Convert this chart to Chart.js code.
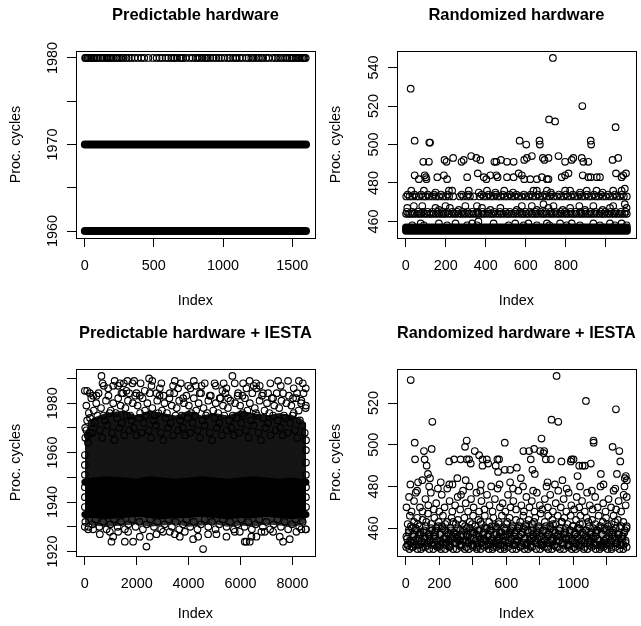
<!DOCTYPE html>
<html>
<head>
<meta charset="utf-8">
<script src="https://cdn.jsdelivr.net/npm/chart.js@4.4.1/dist/chart.umd.min.js"></script>
<style>
  body { margin: 0; background: #fff; }
  #wrap { position: relative; width: 641px; height: 626px; }
  #wrap canvas { position: absolute; }
</style>
</head>
<body>
<div id="wrap">
  <canvas id="c1" width="320" height="313" style="left:0;top:0"></canvas>
  <canvas id="c2" width="321" height="313" style="left:320px;top:0"></canvas>
  <canvas id="c3" width="320" height="313" style="left:0;top:313px"></canvas>
  <canvas id="c4" width="321" height="313" style="left:320px;top:313px"></canvas>
</div>
<script>
// ---- panel 1: Predictable hardware (1600 runs, only 1960 / 1970 / 1980) ----
const p1Count = 1600;
const p1YRange = [1960, 1980];
const p1XTicks = [0, 500, 1000, 1500];
const p1XLabels = ['0', '500', '1000', '1500'];
const p1YTicks = [1960, 1965, 1970, 1975, 1980];
const p1YLabels = ['1960', '', '1970', '', '1980'];
// rows that are saturated (a point at almost every index)
const p1SolidLevels = [1960, 1970];
// indices of the runs that took 1980 cycles
const p1Idx1980 = [3, 8, 17, 22, 31, 40, 48, 60, 66, 72, 84, 96, 112, 128, 140, 157, 166, 176, 185, 193, 210,
  229, 240, 250, 265, 280, 301, 320, 337, 360, 385, 410, 430, 460, 494, 520, 542, 560, 585, 605, 626, 640,
  650, 667, 690, 700, 710, 730, 758, 780, 802, 815, 831, 850, 870, 879, 890, 908, 930, 951, 970, 987, 1011,
  1035, 1050, 1072, 1090, 1100, 1120, 1140, 1168, 1185, 1204, 1220, 1240, 1258, 1276, 1290, 1312, 1330,
  1360, 1380, 1397, 1415, 1433, 1450, 1465, 1481, 1495, 1505, 1524, 1530, 1543, 1552, 1563, 1575, 1582,
  1590, 1598];

// ---- panel 2: Randomized hardware (1105 runs) ----
const p2Count = 1105;
const p2YRange = [455, 545];
const p2XTicks = [0, 200, 400, 600, 800, 1000];
const p2XLabels = ['0', '200', '400', '600', '800', ''];
const p2YTicks = [460, 480, 500, 520, 540];
const p2YLabels = ['460', '480', '500', '520', '540'];
const p2SolidLevels = [455, 456, 457];
const p2Row464 = [2, 13, 22, 35, 44, 58, 69, 79, 93, 104, 118, 127, 140, 153, 165, 178, 189, 199, 214, 227,
  240, 250, 263, 277, 289, 301, 315, 326, 339, 351, 363, 378, 389, 402, 416, 427, 437, 451, 466, 477, 490,
  504, 514, 527, 540, 551, 566, 579, 590, 603, 614, 629, 641, 652, 665, 680, 690, 702, 717, 728, 740, 754,
  766, 778, 791, 803, 816, 829, 841, 852, 867, 878, 891, 905, 916, 929, 942, 954, 968, 981, 992, 1006,
  1017, 1031, 1043, 1055, 1069, 1080, 1093, 1104];
const p2Row465 = [6, 30, 63, 86, 109, 134, 160, 184, 206, 233, 257, 284, 308, 332, 359, 383, 409, 442, 471,
  498, 520, 548, 571, 598, 621, 648, 673, 697, 723, 747, 773, 796, 823, 847, 873, 896, 923, 947, 974, 997,
  1024, 1048, 1075, 1099];
const p2Row473 = [3, 19, 34, 53, 67, 86, 99, 117, 134, 151, 167, 186, 201, 217, 237, 271, 287, 306, 321, 341,
  369, 389, 404, 424, 439, 459, 474, 493, 509, 529, 544, 563, 579, 599, 614, 634, 649, 669, 684, 704, 719,
  739, 755, 775, 789, 809, 825, 844, 859, 879, 894, 914, 929, 949, 964, 984, 999, 1019, 1034, 1054, 1069,
  1089, 1104];
const p2Row474 = [10, 44, 77, 110, 142, 176, 210, 280, 313, 380, 414, 450, 485, 520, 553, 590, 624, 660, 694,
  728, 765, 800, 835, 870, 905, 940, 975, 1010, 1045, 1080];
const p2Points = [
  [33, 458], [75, 459], [91, 458], [166, 459], [207, 458], [249, 459], [307, 458], [332, 459], [356, 458],
  [363, 460], [439, 459], [514, 458], [547, 459], [589, 458], [613, 459], [655, 458], [705, 459], [718, 458],
  [771, 459], [804, 458], [829, 459], [870, 458], [937, 459], [970, 458], [1020, 459], [1045, 458],
  [1078, 459], [1103, 458],
  [8, 467], [41, 468], [83, 468], [149, 467], [166, 466], [199, 468], [221, 467], [265, 466], [298, 468],
  [356, 468], [381, 467], [423, 466], [473, 467], [555, 466], [580, 468], [630, 468], [655, 466], [688, 469],
  [713, 467], [738, 468], [784, 466], [821, 467], [867, 468], [895, 466], [937, 468], [983, 466], [1020, 467],
  [1036, 468], [1094, 469], [1103, 467],
  [28, 476], [91, 476], [149, 475], [216, 476], [232, 476], [315, 476], [365, 475], [406, 476], [448, 475],
  [492, 476], [536, 475], [638, 476], [655, 476], [705, 476], [725, 475], [796, 476], [821, 476], [870, 475],
  [904, 476], [953, 476], [983, 475], [1036, 476], [1078, 476], [1094, 477],
  [45, 484], [66, 482], [95, 484], [101, 483], [104, 482], [158, 483], [191, 484], [207, 482], [307, 483],
  [360, 485], [390, 483], [403, 482], [423, 484], [453, 484], [459, 483], [506, 483], [539, 483], [564, 485],
  [580, 484], [592, 482], [622, 482], [655, 482], [680, 483], [705, 482], [713, 482], [779, 483], [796, 484],
  [813, 485], [884, 484], [912, 483], [924, 483], [954, 483], [970, 483], [1050, 485], [1078, 483],
  [1086, 484], [1100, 485],
  [88, 491], [116, 491], [194, 492], [204, 491], [237, 493], [279, 491], [290, 492], [327, 494], [353, 493],
  [373, 492], [443, 491], [453, 491], [476, 492], [506, 491], [539, 491], [592, 492], [605, 493], [630, 494],
  [685, 493], [693, 492], [713, 493], [763, 494], [796, 491], [829, 492], [837, 493], [879, 493], [887, 491],
  [912, 491], [1033, 492], [1061, 493],
  [25, 529], [45, 502], [118, 501], [122, 501], [569, 502], [602, 500], [668, 502], [670, 500], [716, 513],
  [735, 545], [746, 512], [882, 520], [924, 502], [926, 500], [1048, 509]
];

// ---- panel 3: Predictable hardware + IESTA (8524 runs) ----
const p3Count = 8524;
const p3YRange = [1921, 1991];
const p3XTicks = [0, 2000, 4000, 6000, 8000];
const p3XLabels = ['0', '2000', '4000', '6000', '8000'];
const p3YTicks = [1920, 1930, 1940, 1950, 1960, 1970, 1980, 1990];
const p3YLabels = ['1920', '', '1940', '', '1960', '', '1980', ''];
// outline of the saturated cloud, sampled along the index axis
const p3BandX = [1, 300, 800, 1500, 2000, 2500, 3000, 3500, 4000, 4500, 5000, 5500, 6000, 6500, 7000, 7500, 8000, 8300, 8524];
const p3CoreLow = [1935, 1935, 1934.5, 1935, 1935.5, 1935, 1934.5, 1935, 1935, 1935.5, 1935, 1934.5, 1935, 1935, 1935.5, 1935, 1934.5, 1935, 1935];
const p3CoreTop = [1948, 1948.5, 1949, 1948.5, 1948, 1949, 1948.5, 1948, 1948.5, 1949, 1948.5, 1948, 1948.5, 1949, 1948.5, 1948, 1948.5, 1948, 1948];
const p3CloudTop = [1968, 1974, 1976, 1977, 1975, 1977, 1976, 1975, 1977, 1975, 1976, 1975, 1977, 1976, 1975, 1976, 1975, 1974, 1972];
const p3CloudLow = [1931.5, 1930.5, 1930, 1930.5, 1931, 1930, 1930.5, 1931, 1930, 1930.5, 1931, 1930, 1930.5, 1930, 1931, 1930.5, 1930, 1930.5, 1931.5];
// individual runs in the upper part of the cloud (1964-1984)
const p3Cloud = [
  [15, 1970], [110, 1967], [200, 1974], [300, 1968], [392, 1972], [485, 1975], [580, 1969], [672, 1966],
  [770, 1973], [860, 1971], [955, 1976], [1050, 1968], [1145, 1965], [1240, 1974], [1330, 1970], [1425, 1972],
  [1520, 1967], [1615, 1975], [1710, 1969], [1800, 1973], [1895, 1970], [1990, 1967], [2085, 1974], [2180, 1968],
  [2270, 1972], [2365, 1975], [2460, 1969], [2555, 1966], [2650, 1973], [2740, 1971], [2835, 1976], [2930, 1968],
  [3025, 1965], [3120, 1974], [3210, 1970], [3305, 1972], [3400, 1967], [3495, 1975], [3590, 1969], [3680, 1973],
  [3775, 1970], [3870, 1967], [3965, 1974], [4060, 1968], [4150, 1972], [4245, 1975], [4340, 1969], [4435, 1966],
  [4530, 1973], [4620, 1971], [4715, 1976], [4810, 1968], [4905, 1965], [5000, 1974], [5090, 1970], [5185, 1972],
  [5280, 1967], [5375, 1975], [5470, 1969], [5560, 1973], [5655, 1970], [5750, 1967], [5845, 1974], [5940, 1968],
  [6030, 1972], [6125, 1975], [6220, 1969], [6315, 1966], [6410, 1973], [6500, 1971], [6595, 1976], [6690, 1968],
  [6785, 1965], [6880, 1974], [6970, 1970], [7065, 1972], [7160, 1967], [7255, 1975], [7350, 1969], [7440, 1973],
  [7535, 1970], [7630, 1967], [7725, 1974], [7820, 1968], [7910, 1972], [8005, 1975], [8100, 1969], [8195, 1966],
  [8290, 1973], [8380, 1971], [8475, 1968],
  [60, 1979], [155, 1976], [250, 1982], [345, 1977], [440, 1980], [530, 1984], [625, 1978], [720, 1975],
  [815, 1981], [910, 1983], [1000, 1977], [1095, 1980], [1190, 1976], [1285, 1982], [1380, 1979], [1470, 1984],
  [1565, 1978], [1660, 1981], [1755, 1975], [1850, 1980], [1940, 1983], [2035, 1979], [2130, 1976], [2225, 1982],
  [2320, 1977], [2410, 1980], [2505, 1984], [2600, 1978], [2695, 1975], [2790, 1981], [2880, 1983], [2975, 1977],
  [3070, 1980], [3165, 1976], [3260, 1982], [3350, 1979], [3445, 1984], [3540, 1978], [3635, 1981], [3730, 1975],
  [3820, 1980], [3915, 1983], [4010, 1979], [4105, 1976], [4200, 1982], [4290, 1977], [4385, 1980], [4480, 1984],
  [4575, 1978], [4670, 1975], [4760, 1981], [4855, 1983], [4950, 1977], [5045, 1980], [5140, 1976], [5230, 1982],
  [5325, 1979], [5420, 1984], [5515, 1978], [5610, 1981], [5700, 1975], [5795, 1980], [5890, 1983], [5985, 1979],
  [6080, 1976], [6170, 1982], [6265, 1977], [6360, 1980], [6455, 1984], [6550, 1978], [6640, 1975], [6735, 1981],
  [6830, 1983], [6925, 1977], [7020, 1980], [7110, 1976], [7205, 1982], [7300, 1979], [7395, 1984], [7490, 1978],
  [7580, 1981], [7675, 1975], [7770, 1980], [7865, 1983], [7960, 1979], [8050, 1976], [8145, 1982], [8240, 1977],
  [8335, 1980], [8430, 1984], [8510, 1978]
];
const p3Points = [
  [1, 1985], [90, 1985], [193, 1984], [321, 1983], [449, 1983], [642, 1991], [681, 1988], [732, 1987],
  [899, 1986], [1091, 1987], [1150, 1989], [1284, 1987], [1350, 1988], [1412, 1984], [1502, 1988],
  [1605, 1985], [1640, 1989], [1708, 1984], [1836, 1988], [1900, 1989], [1990, 1984], [2119, 1983],
  [2150, 1988], [2311, 1985], [2478, 1990], [2568, 1987], [2600, 1989], [2761, 1984], [2889, 1986],
  [2950, 1988], [3043, 1983], [3274, 1984], [3400, 1987], [3467, 1989], [3595, 1986], [3700, 1988],
  [3788, 1982], [3980, 1987], [4070, 1986], [4200, 1989], [4276, 1987], [4430, 1984], [4500, 1987],
  [4622, 1988], [4815, 1983], [5000, 1988], [5046, 1987], [5200, 1982], [5303, 1985], [5350, 1988],
  [5457, 1986], [5521, 1982], [5688, 1991], [5778, 1988], [5906, 1984], [6073, 1983], [6100, 1988],
  [6227, 1986], [6350, 1989], [6510, 1987], [6600, 1988], [6613, 1986], [6741, 1987], [6869, 1984],
  [7062, 1984], [7150, 1988], [7255, 1982], [7447, 1989], [7550, 1987], [7640, 1984], [7832, 1989],
  [8025, 1982], [8050, 1986], [8179, 1984], [8250, 1989], [8346, 1981], [8400, 1988], [8513, 1986],
  [8520, 1979],
  [20, 1966], [60, 1969], [120, 1964], [200, 1968], [260, 1972], [90, 1973],
  [1, 1938], [2, 1942], [1, 1946], [3, 1951], [1, 1955], [4, 1959],
  [8524, 1938], [8522, 1942], [8524, 1946], [8521, 1951], [8523, 1956], [8520, 1961], [8524, 1965],
  [20, 1932], [148, 1930], [293, 1931], [418, 1933], [563, 1930], [702, 1932], [838, 1929], [983, 1931],
  [1117, 1933], [1262, 1930], [1398, 1932], [1543, 1929], [1677, 1931], [1822, 1933], [1958, 1930],
  [2103, 1932], [2237, 1929], [2382, 1931], [2518, 1933], [2663, 1930], [2797, 1932], [2942, 1929],
  [3078, 1931], [3223, 1933], [3357, 1930], [3502, 1932], [3638, 1929], [3783, 1931], [3917, 1933],
  [4062, 1930], [4198, 1932], [4343, 1929], [4477, 1931], [4622, 1933], [4758, 1930], [4903, 1932],
  [5037, 1929], [5182, 1931], [5318, 1933], [5463, 1930], [5597, 1932], [5742, 1929], [5878, 1931],
  [6023, 1933], [6157, 1930], [6302, 1932], [6438, 1929], [6583, 1931], [6717, 1933], [6862, 1930],
  [6998, 1932], [7143, 1929], [7277, 1931], [7422, 1933], [7558, 1930], [7703, 1932], [7837, 1929],
  [7982, 1931], [8118, 1933], [8263, 1930], [8398, 1932], [8521, 1929],
  [1, 1930], [128, 1929], [321, 1929], [578, 1927], [963, 1928], [1027, 1924], [1091, 1926], [1284, 1928],
  [1541, 1924], [1669, 1928], [1862, 1924], [2119, 1926], [2375, 1922], [2504, 1926], [2761, 1927],
  [3017, 1928], [3274, 1928], [3467, 1927], [3659, 1926], [3852, 1928], [4173, 1925], [4366, 1926],
  [4558, 1921], [4751, 1927], [5072, 1927], [5457, 1926], [5778, 1928], [5971, 1928], [6163, 1924],
  [6227, 1924], [6356, 1924], [6420, 1926], [6613, 1926], [6806, 1928], [6934, 1928], [7255, 1928],
  [7511, 1926], [7640, 1924], [7897, 1925], [8153, 1928], [8346, 1929], [8513, 1929]
];

// ---- panel 4: Randomized hardware + IESTA (1320 runs) ----
const p4Count = 1320;
const p4YRange = [450, 533];
const p4XTicks = [0, 200, 400, 600, 800, 1000, 1200];
const p4XLabels = ['0', '200', '', '600', '', '1000', ''];
const p4YTicks = [460, 480, 500, 520];
const p4YLabels = ['460', '480', '500', '520'];
// outline of the saturated bottom of the cloud
const p4BandX = [1, 150, 300, 450, 600, 750, 900, 1050, 1200, 1320];
const p4BandLow = [451, 451, 451, 451, 451, 451, 451, 451, 451, 451];
const p4BandTop = [459, 461, 460, 461, 462, 463, 461, 460, 461, 459];
const p4High = [
  [30, 531], [900, 533], [1075, 521], [1254, 517], [159, 511], [870, 512], [910, 511], [54, 501], [591, 501],
  [810, 503], [1120, 502], [1121, 501], [56, 493], [155, 498], [364, 502], [354, 499], [109, 497], [113, 493],
  [125, 490], [133, 486], [145, 484], [259, 492], [289, 493], [328, 493], [364, 493], [378, 493], [388, 491],
  [412, 497], [438, 495], [458, 493], [458, 490], [484, 493], [492, 491], [537, 490], [551, 487], [547, 493],
  [557, 493], [623, 488], [663, 489], [702, 497], [736, 497], [746, 493], [756, 488], [770, 486], [766, 498],
  [802, 497], [822, 496], [826, 497], [836, 493], [866, 493], [929, 492], [985, 492], [1001, 493], [1035, 490],
  [1055, 490], [989, 493], [1104, 491], [1069, 490], [1234, 499], [1274, 497], [1280, 492], [1260, 486],
  [1307, 484], [1319, 483], [1313, 485], [1164, 486], [1025, 485], [935, 483], [846, 482], [687, 484],
  [591, 488], [623, 482], [448, 481], [358, 483], [308, 484], [279, 481], [209, 482], [99, 483], [74, 482]
];
const p4Mid = [
  [5, 470], [20, 475], [35, 468], [50, 473], [68, 478], [85, 470], [100, 468], [118, 474], [135, 471], [150, 477],
  [168, 469], [182, 472], [200, 468], [215, 476], [232, 470], [248, 479], [262, 473], [278, 468], [295, 471],
  [310, 475], [325, 469], [342, 478], [358, 472], [372, 468], [390, 474], [405, 470], [422, 477], [438, 468],
  [452, 473], [470, 469], [485, 476], [500, 471], [518, 468], [532, 474], [548, 479], [562, 470], [578, 472],
  [595, 468], [610, 476], [625, 470], [642, 473], [658, 469], [672, 478], [690, 471], [705, 468], [720, 475],
  [738, 470], [752, 473], [768, 468], [782, 477], [800, 471], [815, 469], [830, 474], [848, 470], [862, 476],
  [878, 468], [895, 472], [910, 478], [925, 470], [942, 474], [958, 468], [972, 477], [988, 471], [1005, 469],
  [1020, 475], [1035, 470], [1052, 473], [1068, 468], [1082, 477], [1098, 471], [1115, 469], [1130, 475],
  [1145, 470], [1162, 480], [1178, 472], [1192, 468], [1210, 474], [1225, 470], [1240, 478], [1255, 469],
  [1270, 473], [1285, 468], [1300, 476], [1312, 471], [1318, 475],
  [28, 481], [60, 477], [140, 480], [192, 479], [260, 481], [330, 476], [380, 480], [445, 478], [510, 480],
  [560, 481], [640, 479], [700, 480], [760, 478], [840, 480], [890, 481], [960, 479], [1040, 480], [1110, 478],
  [1180, 481], [1250, 479], [1305, 480]
];
const p4Low = [
  [3, 451], [22, 450], [45, 451], [70, 450], [92, 450], [118, 451], [140, 450], [165, 450], [188, 451], [210, 450],
  [236, 450], [258, 451], [283, 450], [305, 450], [330, 451], [352, 450], [377, 450], [400, 451], [424, 450],
  [447, 450], [470, 451], [495, 450], [518, 450], [542, 451], [565, 450], [590, 450], [612, 451], [636, 450],
  [660, 450], [684, 451], [707, 450], [730, 450], [755, 451], [778, 450], [802, 450], [826, 451], [850, 450],
  [873, 450], [897, 451], [920, 450], [944, 450], [968, 451], [990, 450], [1015, 450], [1038, 451], [1062, 450],
  [1085, 450], [1110, 451], [1133, 450], [1157, 450], [1180, 451], [1204, 450], [1228, 450], [1252, 451],
  [1275, 450], [1298, 450], [1318, 451],
  [8, 455], [12, 462], [18, 458], [25, 466], [31, 453], [37, 460], [44, 456], [50, 463], [57, 452], [63, 459],
  [69, 465], [76, 454], [82, 461], [88, 457], [95, 453], [101, 464], [107, 458], [114, 455], [120, 461], [127, 452],
  [133, 467], [139, 457], [146, 454], [152, 462], [158, 459], [165, 453], [171, 465], [178, 456], [184, 460],
  [190, 452], [197, 463], [203, 457], [210, 454], [216, 461], [222, 466], [229, 455], [235, 459], [242, 453],
  [248, 463], [254, 457], [261, 452], [267, 460], [274, 465], [280, 455], [286, 458], [293, 453], [299, 462],
  [306, 456], [312, 464], [318, 454], [325, 459],
  [331, 452], [338, 462], [344, 457], [350, 465], [357, 454], [363, 460], [370, 456], [376, 453], [382, 463],
  [389, 458], [395, 452], [402, 466], [408, 455], [414, 461], [421, 457], [427, 453], [434, 464], [440, 459],
  [446, 455], [453, 462], [459, 452], [466, 458], [472, 466], [478, 454], [485, 460], [491, 456], [498, 463],
  [504, 453], [510, 459], [517, 455], [523, 465], [530, 452], [536, 461], [542, 457], [549, 454], [555, 463],
  [562, 458], [568, 452], [574, 466], [581, 456], [587, 460], [594, 454], [600, 462], [606, 457], [613, 453],
  [619, 465], [626, 459], [632, 455], [638, 461], [645, 452], [651, 458], [658, 464],
  [664, 454], [670, 460], [677, 456], [683, 463], [690, 452], [696, 458], [702, 466], [709, 455], [715, 461],
  [722, 453], [728, 459], [734, 464], [741, 456], [747, 452], [754, 462], [760, 457], [766, 454], [773, 465],
  [779, 459], [786, 453], [792, 461], [798, 456], [805, 467], [811, 452], [818, 459], [824, 455], [830, 463],
  [837, 458], [843, 453], [850, 466], [856, 457], [862, 461], [869, 454], [875, 464], [882, 459], [888, 452],
  [894, 462], [901, 456], [907, 466], [914, 454], [920, 460], [926, 457], [933, 463], [939, 453], [946, 465],
  [952, 458], [958, 455], [965, 462], [971, 452], [978, 459], [984, 466],
  [991, 455], [997, 461], [1003, 453], [1010, 458], [1016, 464], [1023, 456], [1029, 452], [1035, 460],
  [1042, 466], [1048, 454], [1055, 462], [1061, 457], [1067, 453], [1074, 459], [1080, 465], [1087, 455],
  [1093, 461], [1099, 452], [1106, 458], [1112, 464], [1119, 456], [1125, 453], [1131, 462], [1138, 459],
  [1144, 455], [1151, 466], [1157, 452], [1163, 460], [1170, 457], [1176, 463], [1183, 454], [1189, 459],
  [1195, 465], [1202, 453], [1208, 461], [1215, 456], [1221, 452], [1227, 462], [1234, 458], [1240, 466],
  [1247, 455], [1253, 460], [1259, 453], [1266, 464], [1272, 457], [1279, 452], [1285, 461], [1291, 455],
  [1298, 463], [1304, 458], [1311, 453], [1317, 460],
  [15, 452], [48, 454], [79, 457], [110, 453], [142, 456], [175, 458], [205, 452], [238, 455], [270, 457],
  [302, 453], [334, 456], [366, 454], [398, 458], [430, 452], [462, 455], [494, 457], [526, 453], [558, 456],
  [590, 452], [622, 458], [654, 454], [686, 457], [718, 452], [750, 455], [782, 458], [814, 453], [846, 456],
  [878, 454], [910, 457], [942, 452], [974, 455], [1006, 457], [1038, 453], [1070, 456], [1102, 454],
  [1134, 458], [1166, 452], [1198, 455], [1230, 457], [1262, 453], [1294, 456]
];
const p4Floor = [
  [4, 456], [10, 452], [18, 459], [26, 454], [31, 461], [39, 451], [47, 457], [52, 453], [60, 460], [68, 455],
  [73, 462], [81, 452], [89, 458], [94, 454], [102, 451], [110, 459], [115, 456], [123, 463], [131, 453],
  [136, 457], [144, 455], [152, 460], [157, 452], [165, 456], [173, 452], [178, 459], [186, 454], [194, 461],
  [199, 451], [207, 457], [215, 453], [220, 460], [228, 455], [236, 462], [241, 452], [249, 458], [257, 454],
  [262, 451], [270, 459], [278, 456], [283, 463], [291, 453], [299, 457], [304, 455], [312, 460], [320, 452],
  [325, 456], [333, 452], [341, 459], [346, 454], [354, 461], [362, 451], [367, 457], [375, 453], [383, 460],
  [388, 455], [396, 462], [404, 452], [409, 458], [417, 454], [425, 451], [430, 459], [438, 456], [446, 463],
  [451, 453], [459, 457], [467, 455], [472, 460], [480, 452], [488, 456], [493, 452], [501, 459], [509, 454],
  [514, 461], [522, 451], [530, 457], [535, 453], [543, 460], [551, 455], [556, 462], [564, 452], [572, 458],
  [577, 454], [585, 451], [593, 459], [598, 456], [606, 463], [614, 453], [619, 457], [627, 455], [635, 460],
  [640, 452], [648, 456], [656, 452], [661, 459], [669, 454], [677, 461], [682, 451], [690, 457], [698, 453],
  [703, 460], [711, 455], [719, 462], [724, 452], [732, 458], [740, 454], [745, 451], [753, 459], [761, 456],
  [766, 463], [774, 453], [782, 457], [787, 455], [795, 460], [803, 452], [808, 456], [816, 452], [824, 459],
  [829, 454], [837, 461], [845, 451], [850, 457], [858, 453], [866, 460], [871, 455], [879, 462], [887, 452],
  [892, 458], [900, 454], [908, 451], [913, 459], [921, 456], [929, 463], [934, 453], [942, 457], [950, 455],
  [955, 460], [963, 452], [971, 456], [976, 452], [984, 459], [992, 454], [997, 461], [1005, 451], [1013, 457],
  [1018, 453], [1026, 460], [1034, 455], [1039, 462], [1047, 452], [1055, 458], [1060, 454], [1068, 451],
  [1076, 459], [1081, 456], [1089, 463], [1097, 453], [1102, 457], [1110, 455], [1118, 460], [1123, 452],
  [1131, 456], [1139, 452], [1144, 459], [1152, 454], [1160, 461], [1165, 451], [1173, 457], [1181, 453],
  [1186, 460], [1194, 455], [1202, 462], [1207, 452], [1215, 458], [1223, 454], [1228, 451], [1236, 459],
  [1244, 456], [1249, 463], [1257, 453], [1265, 457], [1270, 455], [1278, 460], [1286, 452], [1291, 456],
  [1299, 452], [1307, 459], [1312, 454], [1318, 461]
];

// ---- helpers ----
const FONT = '"Liberation Sans", Arial, Helvetica, sans-serif';
Chart.defaults.font.family = FONT;

// R pads each axis by 4% of the data range
const rRange = (lo, hi) => [lo - 0.04 * (hi - lo), hi + 0.04 * (hi - lo)];
const pairs = list => list.map(p => ({ x: p[0], y: p[1] }));
const row = (idx, level) => idx.map(x => ({ x: x, y: level }));
const edge = (xs, ys) => xs.map((x, i) => ({ x: x, y: ys[i] }));

function dots(data) {
  return { type: 'scatter', data: data, order: 1 };
}
function solidRow(count, level, width) {
  return {
    type: 'line', data: [{ x: 1, y: level }, { x: count, y: level }], showLine: true,
    borderColor: '#000', borderWidth: width, borderCapStyle: 'round', pointRadius: 0, fill: false, order: 2
  };
}
function outline(data, width, fillTo, color, order) {
  return {
    type: 'line', data: data, showLine: true, pointRadius: 0,
    borderColor: width ? '#000' : 'rgba(0,0,0,0)', borderWidth: width || 1, borderCapStyle: 'round',
    fill: fillTo === null ? false : fillTo, backgroundColor: color, order: order
  };
}

const boxPlugin = {
  id: 'plotBox',
  afterDraw(chart) {
    const a = chart.chartArea;
    const ctx = chart.ctx;
    ctx.save();
    ctx.strokeStyle = '#000';
    ctx.lineWidth = 1;
    ctx.strokeRect(Math.round(a.left) + 0.5, Math.round(a.top) + 0.5,
      Math.round(a.right) - Math.round(a.left), Math.round(a.bottom) - Math.round(a.top));
    ctx.restore();
  }
};

function tickPad(labels) {
  const c = document.createElement('canvas').getContext('2d');
  c.font = '14.4px ' + FONT;
  const w = Math.max.apply(null, labels.map(s => c.measureText(s).width));
  return 13.5 - w / 2;
}

function drawPanel(id, p) {
  const canvas = document.getElementById(id);
  const W = canvas.width, H = canvas.height;
  const xr = rRange(1, p.count);
  const yr = rRange(p.yRange[0], p.yRange[1]);
  const lab = (vals, labs) => v => { const i = vals.indexOf(v); return i < 0 ? '' : labs[i]; };
  const tickFont = { family: FONT, size: 14.4 };
  return new Chart(canvas, {
    type: 'scatter',
    data: { datasets: p.datasets },
    options: {
      responsive: false,
      animation: false,
      events: [],
      layout: { padding: { left: 0, top: 0, right: W - p.area.right, bottom: 0 } },
      elements: {
        point: { radius: 3.3, borderWidth: 1.15, backgroundColor: 'rgba(0,0,0,0)', borderColor: '#000' },
        line: { tension: 0 }
      },
      plugins: {
        legend: { display: false },
        tooltip: { enabled: false },
        title: {
          display: true, text: p.title, color: '#000', fullSize: false,
          font: { family: FONT, size: 16.5, weight: 'bold', lineHeight: 1.2 },
          padding: { top: p.titleY - 9.9, bottom: p.area.top - p.titleY - 9.9 }
        }
      },
      scales: {
        x: {
          type: 'linear', min: xr[0], max: xr[1],
          afterBuildTicks: s => { s.ticks = p.xTicks.map(v => ({ value: v })); },
          afterFit: s => { s.height = H - p.area.bottom; s.paddingLeft = 0; s.paddingRight = 0; },
          border: { display: false },
          grid: { drawOnChartArea: false, drawTicks: true, tickLength: 9, color: '#000', tickColor: '#000', lineWidth: 1 },
          ticks: {
            autoSkip: false, minRotation: 0, maxRotation: 0, padding: 10.5, color: '#000', font: tickFont,
            callback: lab(p.xTicks, p.xLabels)
          },
          title: { display: true, text: 'Index', color: '#000', font: tickFont, padding: { top: 0, bottom: 3.5 } }
        },
        y: {
          type: 'linear', min: yr[0], max: yr[1],
          afterBuildTicks: s => { s.ticks = p.yTicks.map(v => ({ value: v })); },
          afterFit: s => { s.width = p.area.left; s.paddingTop = 0; s.paddingBottom = 0; },
          border: { display: false },
          grid: { drawOnChartArea: false, drawTicks: true, tickLength: 9, color: '#000', tickColor: '#000', lineWidth: 1 },
          ticks: {
            autoSkip: false, minRotation: 90, maxRotation: 90, crossAlign: 'center',
            padding: tickPad(p.yLabels), color: '#000', font: tickFont,
            callback: lab(p.yTicks, p.yLabels)
          },
          title: { display: true, text: 'Proc. cycles', color: '#000', font: tickFont, padding: { top: 7.2, bottom: 0 } }
        }
      }
    },
    plugins: [boxPlugin]
  });
}

// ---- panel 1 ----
drawPanel('c1', {
  title: 'Predictable hardware', count: p1Count, yRange: p1YRange,
  xTicks: p1XTicks, xLabels: p1XLabels, yTicks: p1YTicks, yLabels: p1YLabels,
  area: { left: 76, top: 51, right: 315, bottom: 238 }, titleY: 15.3,
  datasets: [dots(row(p1Idx1980, 1980))].concat(p1SolidLevels.map(l => solidRow(p1Count, l, 8)))
});

// ---- panel 2 ----
drawPanel('c2', {
  title: 'Randomized hardware', count: p2Count, yRange: p2YRange,
  xTicks: p2XTicks, xLabels: p2XLabels, yTicks: p2YTicks, yLabels: p2YLabels,
  area: { left: 77, top: 51, right: 317, bottom: 238 }, titleY: 15.3,
  datasets: [
    dots(row(p2Row464, 464)), dots(row(p2Row465, 465)),
    dots(row(p2Row473, 473)), dots(row(p2Row474, 474)),
    dots(pairs(p2Points))
  ].concat(p2SolidLevels.map(l => solidRow(p2Count, l, 7.5)))
});

// ---- panel 3 ----
(function () {
  const ds = [dots(pairs(p3Points)), dots(pairs(p3Cloud))];
  const iLow = ds.length;
  ds.push(outline(edge(p3BandX, p3CoreLow), 7, null, '#000', 3));
  const iTop = ds.length;
  ds.push(outline(edge(p3BandX, p3CoreTop), 7, iLow, '#000', 3));
  ds.push(outline(edge(p3BandX, p3CloudTop), 0, iTop, 'rgba(0,0,0,0.92)', 4));
  ds.push(outline(edge(p3BandX, p3CloudLow), 0, iLow, 'rgba(0,0,0,0.8)', 4));
  drawPanel('c3', {
    title: 'Predictable hardware + IESTA', count: p3Count, yRange: p3YRange,
    xTicks: p3XTicks, xLabels: p3XLabels, yTicks: p3YTicks, yLabels: p3YLabels,
    area: { left: 76, top: 56, right: 315, bottom: 243 }, titleY: 20.8,
    datasets: ds
  });
})();

// ---- panel 4 ----
(function () {
  const ds = [dots(pairs(p4Floor)), dots(pairs(p4Low)), dots(pairs(p4Mid)), dots(pairs(p4High))];
  const iLow = ds.length;
  ds.push(outline(edge(p4BandX, p4BandLow), 0, null, 'rgba(0,0,0,0)', 3));
  ds.push(outline(edge(p4BandX, p4BandTop), 0, iLow, 'rgba(0,0,0,0.3)', 3));
  drawPanel('c4', {
    title: 'Randomized hardware + IESTA', count: p4Count, yRange: p4YRange,
    xTicks: p4XTicks, xLabels: p4XLabels, yTicks: p4YTicks, yLabels: p4YLabels,
    area: { left: 77, top: 56, right: 317, bottom: 243 }, titleY: 20.8,
    datasets: ds
  });
})();
</script>
</body>
</html>
